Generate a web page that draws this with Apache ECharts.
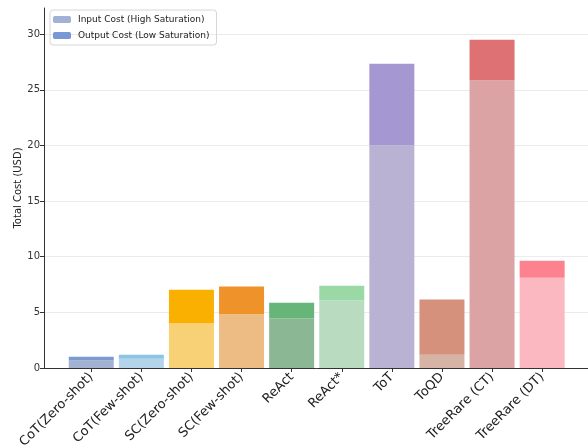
<!DOCTYPE html>
<html>
<head>
<meta charset="utf-8">
<script src="https://cdn.jsdelivr.net/npm/echarts@6/dist/echarts.min.js"></script>
<style>html,body{margin:0;padding:0;background:#fff}#c{width:588px;height:448px}</style>
</head>
<body>
<div id="c"></div>
<script>
var categories = ['CoT(Zero-shot)', 'CoT(Few-shot)', 'SC(Zero-shot)', 'SC(Few-shot)', 'ReAct', 'ReAct*', 'ToT', 'ToQD', 'TreeRare (CT)', 'TreeRare (DT)'];
var inputCost = [0.67, 0.83, 4.03, 4.84, 4.45, 6.09, 20.02, 1.19, 25.86, 8.12];
var outputCost = [0.33, 0.36, 3.00, 2.48, 1.41, 1.29, 7.31, 4.96, 3.64, 1.52];
var yTicks = [0, 5, 10, 15, 20, 25, 30];

var inputColors = ['#a2b2d0', '#b4d4e9', '#f8d176', '#edbc84', '#8bb795', '#b9dbc0', '#b9b2d2', '#d5b3a5', '#dba3a4', '#fbb8c0'];
var outputColors = ['#7b9bd0', '#8cc4e8', '#f9b000', '#ee9229', '#66b679', '#9ad8a6', '#a497d2', '#d5917c', '#de7174', '#fd8290'];

var font = 'DejaVu Sans';
var yMax = 32.35;

function build(vals, cols) {
  return vals.map(function (v, i) {
    return { value: v, itemStyle: { color: cols[i], borderWidth: 0 } };
  });
}

var chart = echarts.init(document.getElementById('c'));
chart.setOption({
  animation: false,
  backgroundColor: '#fff',
  textStyle: { fontFamily: font },
  grid: [
    { left: 66.2, top: 8, width: 501, height: 360, containLabel: false, outerBoundsMode: 'none' },
    { left: 44, top: 8, width: 546, height: 360, containLabel: false, outerBoundsMode: 'none' }
  ],
  legend: {
    orient: 'vertical', left: 50, top: 10,
    itemWidth: 18, itemHeight: 7, itemGap: 7,
    padding: [5, 7, 5, 3],
    borderColor: '#d6d6d6', borderWidth: 1, borderRadius: 3,
    textStyle: { fontFamily: font, fontSize: 9, color: '#222', padding: [0, 0, 0, 2] },
    data: ['Input Cost (High Saturation)', 'Output Cost (Low Saturation)']
  },
  xAxis: [
    {
      gridIndex: 0, type: 'category', data: categories,
      axisLine: { show: false },
      axisTick: { show: true, alignWithLabel: true, length: 4, lineStyle: { color: '#333' } },
      axisLabel: { interval: 0, rotate: 45, fontSize: 13, color: '#222', margin: 7, fontFamily: font },
      splitLine: { show: false }
    },
    {
      gridIndex: 1, type: 'value', min: 0, max: 1,
      axisLine: { show: true, lineStyle: { color: '#333', width: 1 } },
      axisTick: { show: false }, axisLabel: { show: false }, splitLine: { show: false }
    }
  ],
  yAxis: [
    {
      gridIndex: 0, type: 'value', min: 0, max: yMax,
      axisLine: { show: false }, axisTick: { show: false }, axisLabel: { show: false },
      splitLine: { show: false }
    },
    {
      gridIndex: 1, type: 'value', min: 0, max: yMax,
      name: 'Total Cost (USD)', nameLocation: 'middle', nameGap: 21, nameMoveOverlap: false,
      nameTextStyle: { fontSize: 10, color: '#222', fontFamily: font },
      axisLine: { show: true, onZero: false, lineStyle: { color: '#333', width: 1 } },
      axisTick: { show: true, customValues: yTicks, length: 4, lineStyle: { color: '#333' } },
      axisLabel: { customValues: yTicks, fontSize: 10, color: '#333', margin: 4, fontFamily: font },
      splitLine: { show: true, lineStyle: { color: '#ebebeb', width: 1 } }
    }
  ],
  series: [
    {
      name: 'Input Cost (High Saturation)', type: 'bar', stack: 'cost', barWidth: 45,
      xAxisIndex: 0, yAxisIndex: 0, z: 3,
      itemStyle: { color: '#a2b2d4', borderWidth: 0 },
      data: build(inputCost, inputColors)
    },
    {
      name: 'Output Cost (Low Saturation)', type: 'bar', stack: 'cost', barWidth: 45,
      xAxisIndex: 0, yAxisIndex: 0, z: 3,
      itemStyle: { color: '#7898d4', borderWidth: 0 },
      data: build(outputCost, outputColors)
    }
  ]
});
</script>
</body>
</html>
